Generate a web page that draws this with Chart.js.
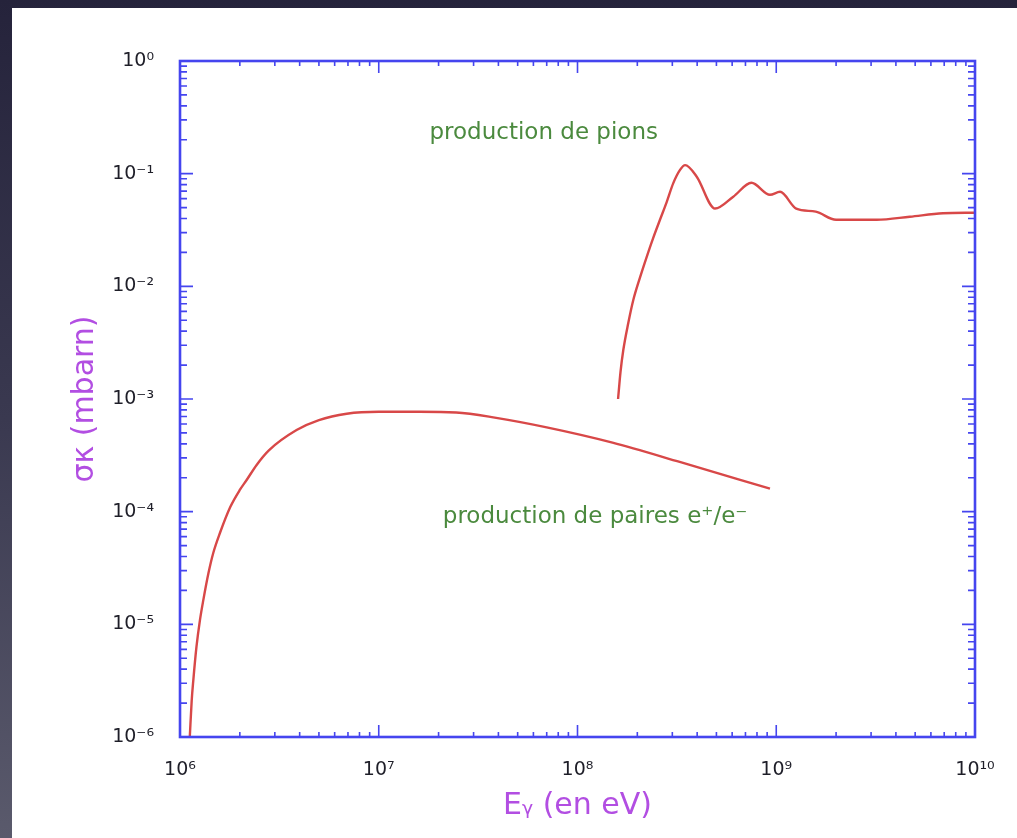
<!DOCTYPE html>
<html>
<head>
<meta charset="utf-8">
<script src="https://cdn.jsdelivr.net/npm/chart.js@4"></script>
<style>
    html, body { margin: 0; padding: 0; width: 1017px; height: 838px; overflow: hidden; }
    body { background: linear-gradient(to bottom, #25233b 0%, #3a3950 50%, #5a5a6c 100%); }
    #sheet { position: absolute; left: 12px; top: 8px; width: 1005px; height: 830px; background: #fff; }
    #grafico { display: block; }
</style>
</head>
<body>
<div id="sheet"><canvas id="grafico" width="1005" height="830"></canvas></div>
<script>
// photon energy (eV) and sigma*kappa (mbarn)
const pairEnergy = [1.12e6, 1.145e6, 1.167e6, 1.21e6, 1.26e6, 1.31e6, 1.39e6, 1.47e6, 1.59e6, 1.79e6,
    2.0e6, 2.16e6, 2.43e6, 2.8e6, 3.86e6, 5.0e6, 6.9e6, 1.0e7, 1.6e7, 2.45e7,
    3.9e7, 7.0e7, 1.5e8, 3.3e8, 9.3e8];
const pairSigma = [1.0e-6, 2.1e-6, 3.2e-6, 6.3e-6, 1.09e-5, 1.64e-5, 2.84e-5, 4.3e-5, 6.5e-5, 1.1e-4,
    1.56e-4, 1.9e-4, 2.6e-4, 3.5e-4, 5.3e-4, 6.5e-4, 7.4e-4, 7.7e-4, 7.7e-4, 7.6e-4,
    6.8e-4, 5.6e-4, 4.1e-4, 2.75e-4, 1.6e-4];

const pionEnergy = [1.6e8, 1.646e8, 1.7e8, 1.8e8, 1.91e8, 2.06e8, 2.23e8, 2.4e8, 2.6e8, 2.81e8,
    3.03e8, 3.28e8, 3.48e8, 3.98e8, 4.92e8, 6.08e8, 7.5e8, 9.3e8, 1.045e9, 1.26e9,
    1.58e9, 2.0e9, 3.2e9, 4.7e9, 6.9e9, 1.0e10];
const pionSigma = [1.0e-3, 1.74e-3, 2.72e-3, 4.7e-3, 7.6e-3, 1.19e-2, 1.83e-2, 2.67e-2, 3.9e-2, 5.6e-2,
    8.2e-2, 0.108, 0.119, 0.094, 0.049, 0.0625, 0.083, 0.065, 0.069, 0.049,
    0.046, 0.039, 0.039, 0.0415, 0.0445, 0.045];

const xDecades = [1e6, 1e7, 1e8, 1e9, 1e10];
const xTickLabels = ["10⁶", "10⁷", "10⁸", "10⁹", "10¹⁰"];
const yDecades = [1e-6, 1e-5, 1e-4, 1e-3, 1e-2, 1e-1, 1e0];
const yTickLabels = ["10⁻⁶", "10⁻⁵", "10⁻⁴", "10⁻³", "10⁻²", "10⁻¹", "10⁰"];

const notes = [
    { text: "production de pions", x: 1.8e7, y: 0.23 },
    { text: "production de paires e⁺/e⁻", x: 2.1e7, y: 8.9e-5 }
];

const BLUE = "#4545ef";
const RED = "#d84848";
const GREEN = "#4b8a3e";
const PURPLE = "#b24ee2";
const FONT = "'DejaVu Sans', 'Liberation Sans', sans-serif";

function logTicks(decades) {
    const out = [];
    for (let i = 0; i < decades.length - 1; i++) {
        for (let m = 1; m <= 9; m++) out.push(decades[i] * m);
    }
    out.push(decades[decades.length - 1]);
    return out;
}

function labelFor(decades, labels) {
    return function (value) {
        const i = decades.findIndex(d => Math.abs(d - value) / d < 1e-9);
        return i >= 0 ? labels[i] : "";
    };
}

function isMajor(decades, value) {
    return decades.some(d => Math.abs(d - value) / d < 1e-9);
}

// blue frame with inward ticks on all four sides, plus the two notes
const framePlugin = {
    id: "frame",
    afterDatasetsDraw(chart) {
        const { ctx, chartArea: a, scales } = chart;
        ctx.save();
        ctx.strokeStyle = BLUE;
        ctx.lineWidth = 1.6;
        for (const t of scales.x.ticks) {
            const px = scales.x.getPixelForValue(t.value);
            const len = isMajor(xDecades, t.value) ? 12 : 5;
            ctx.beginPath();
            ctx.moveTo(px, a.bottom); ctx.lineTo(px, a.bottom - len);
            ctx.moveTo(px, a.top); ctx.lineTo(px, a.top + len);
            ctx.stroke();
        }
        for (const t of scales.y.ticks) {
            const py = scales.y.getPixelForValue(t.value);
            const len = isMajor(yDecades, t.value) ? 13 : 7;
            ctx.beginPath();
            ctx.moveTo(a.left, py); ctx.lineTo(a.left + len, py);
            ctx.moveTo(a.right, py); ctx.lineTo(a.right - len, py);
            ctx.stroke();
        }
        ctx.lineWidth = 2.6;
        ctx.strokeRect(a.left, a.top, a.right - a.left, a.bottom - a.top);

        ctx.fillStyle = GREEN;
        ctx.font = "23px " + FONT;
        ctx.textAlign = "left";
        ctx.textBaseline = "middle";
        for (const n of notes) {
            ctx.fillText(n.text, scales.x.getPixelForValue(n.x), scales.y.getPixelForValue(n.y));
        }
        ctx.restore();
    }
};

const ctx = document.getElementById("grafico").getContext("2d");

new Chart(ctx, {
    type: "scatter",
    data: {
        datasets: [
            {
                label: "production de paires",
                data: pairEnergy.map((e, i) => ({ x: e, y: pairSigma[i] })),
                showLine: true,
                borderColor: RED,
                borderWidth: 2.4,
                pointRadius: 0,
                cubicInterpolationMode: "monotone"
            },
            {
                label: "production de pions",
                data: pionEnergy.map((e, i) => ({ x: e, y: pionSigma[i] })),
                showLine: true,
                borderColor: RED,
                borderWidth: 2.4,
                pointRadius: 0,
                cubicInterpolationMode: "monotone"
            }
        ]
    },
    options: {
        responsive: false,
        animation: false,
        layout: { padding: { left: 0, right: 42, top: 53, bottom: 0 } },
        plugins: {
            legend: { display: false },
            tooltip: { enabled: false }
        },
        scales: {
            x: {
                type: "logarithmic",
                position: "bottom",
                min: 1e6,
                max: 1e10,
                grid: { display: false },
                border: { display: false },
                afterBuildTicks: s => { s.ticks = logTicks(xDecades).map(v => ({ value: v })); },
                afterFit: s => { s.height = 101; },
                ticks: {
                    autoSkip: false,
                    maxRotation: 0,
                    padding: 14,
                    color: "#1e1e28",
                    font: { family: FONT, size: 19 },
                    callback: labelFor(xDecades, xTickLabels)
                },
                title: {
                    display: true,
                    text: "Eᵧ (en eV)",
                    color: PURPLE,
                    font: { family: FONT, size: 30 },
                    padding: { top: 0, bottom: 14 }
                }
            },
            y: {
                type: "logarithmic",
                position: "left",
                min: 1e-6,
                max: 1,
                grid: { display: false },
                border: { display: false },
                afterBuildTicks: s => { s.ticks = logTicks(yDecades).map(v => ({ value: v })); },
                afterFit: s => { s.width = 168; },
                ticks: {
                    autoSkip: false,
                    padding: 18,
                    color: "#1e1e28",
                    font: { family: FONT, size: 19 },
                    callback: labelFor(yDecades, yTickLabels)
                },
                title: {
                    display: true,
                    text: "σκ (mbarn)",
                    color: PURPLE,
                    font: { family: FONT, size: 30 },
                    padding: { top: 55, bottom: 0 }
                }
            }
        }
    },
    plugins: [framePlugin]
});
</script>
</body>
</html>
